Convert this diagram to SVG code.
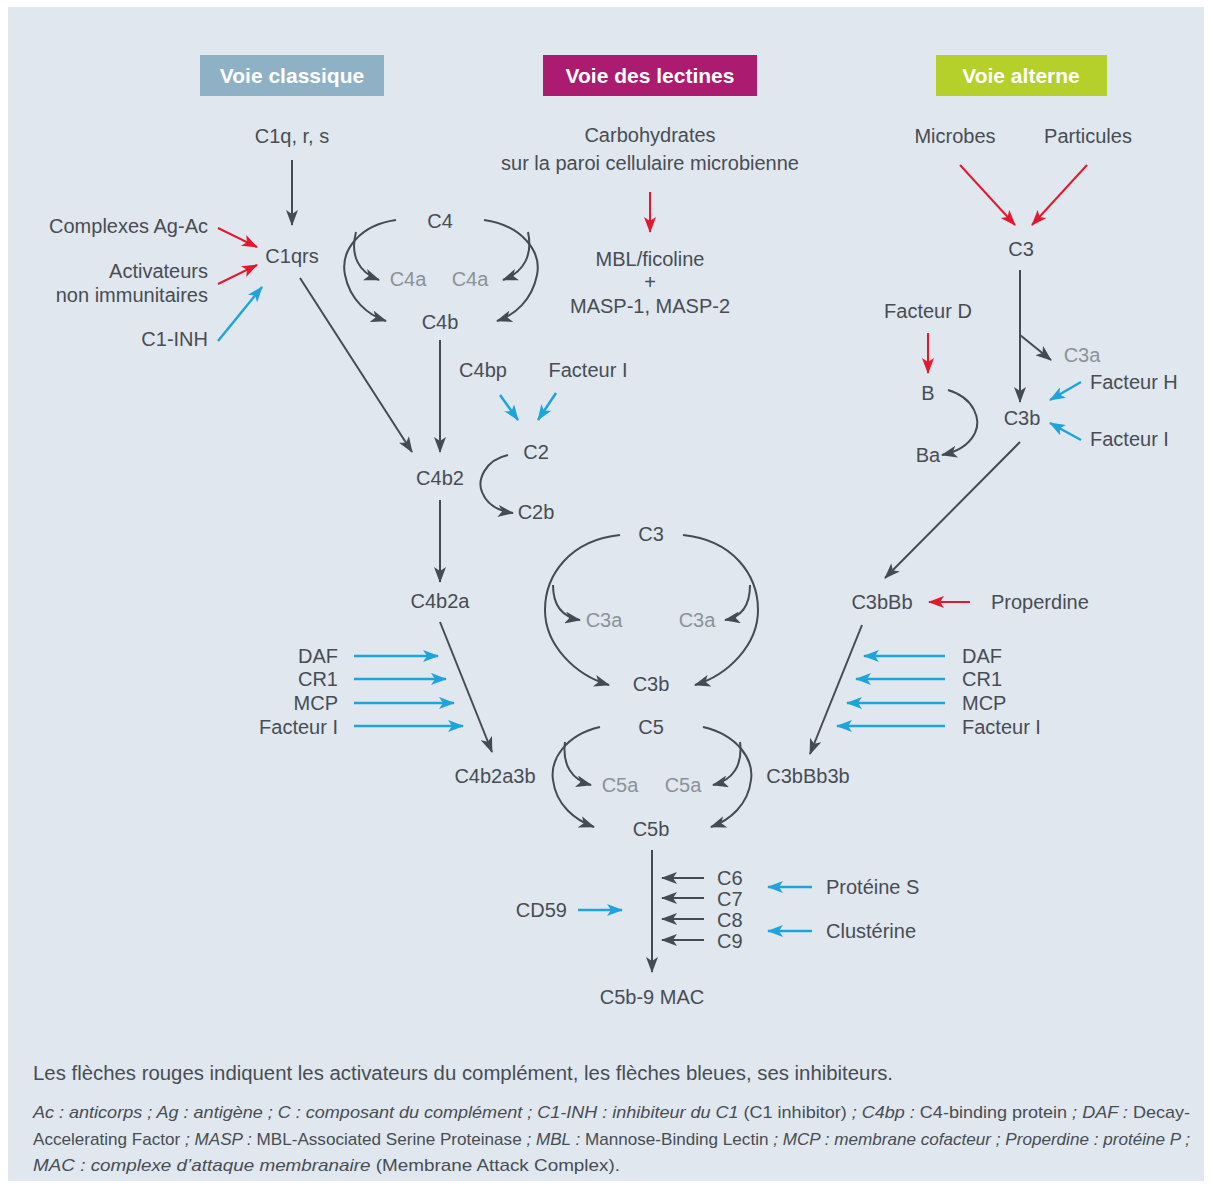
<svg xmlns="http://www.w3.org/2000/svg" width="1211" height="1187" viewBox="0 0 1211 1187">
<defs>
<style>
text{font-family:"Liberation Sans Narrow","Liberation Sans",Arial,sans-serif;fill:#484d54;font-size:20px}
.c{text-anchor:middle}
.r{text-anchor:end}
.l{fill:#8a9299}
.h{fill:#fff;font-weight:bold;font-size:21px;text-anchor:middle}
.k{fill:none;stroke:#454b52;stroke-width:2}
.red{fill:none;stroke:#e3182c;stroke-width:2}
.blue{fill:none;stroke:#1ea4dc;stroke-width:2.5}
.f{font-size:20px}
.it{font-size:17px;font-style:italic}
.up{font-style:normal}
</style>
<marker id="ak" markerUnits="userSpaceOnUse" viewBox="0 0 16 12" refX="15" refY="6" markerWidth="16" markerHeight="12" orient="auto"><path d="M0,0 L16,6 L0,12 L4,6 z" fill="#454b52"/></marker>
<marker id="ar" markerUnits="userSpaceOnUse" viewBox="0 0 16 12" refX="15" refY="6" markerWidth="16" markerHeight="12" orient="auto"><path d="M0,0 L16,6 L0,12 L4,6 z" fill="#e3182c"/></marker>
<marker id="ab" markerUnits="userSpaceOnUse" viewBox="0 0 16 12" refX="15" refY="6" markerWidth="16" markerHeight="12" orient="auto"><path d="M0,0 L16,6 L0,12 L4,6 z" fill="#1ea4dc"/></marker>
</defs>
<rect x="0" y="0" width="1211" height="1187" fill="#ffffff"/>
<rect x="8" y="7" width="1196" height="1174" fill="#e0e7ee"/>

<g id="headers">
<g id="voie-classique"><rect x="200" y="55" width="184" height="41" fill="#8fb1c5"/><text class="h" x="292" y="83">Voie classique</text></g>
<g id="voie-lectines"><rect x="543" y="55" width="214" height="41" fill="#ab1b70"/><text class="h" x="650" y="83">Voie des lectines</text></g>
<g id="voie-alterne"><rect x="936" y="55" width="171" height="41" fill="#b5cf2b"/><text class="h" x="1021" y="83">Voie alterne</text></g>
</g>

<g id="connectors">
<path class="k" d="M292,160 L292,225" marker-end="url(#ak)"/>
<path class="red" d="M218,228 L257,247" marker-end="url(#ar)"/>
<path class="red" d="M218,284 L257,265" marker-end="url(#ar)"/>
<path class="blue" d="M218,341 L262,287" marker-end="url(#ab)"/>
<path class="k" d="M300,278 L412,452" marker-end="url(#ak)"/>
<path class="k" d="M396,220 C360,225 340,250 345,275 C350,300 368,315 386,321" marker-end="url(#ak)"/>
<path class="k" d="M356,232 C350,255 358,272 379,280" marker-end="url(#ak)"/>
<path class="k" d="M484,220 C520,225 542,250 537,275 C532,300 515,315 497,321" marker-end="url(#ak)"/>
<path class="k" d="M528,232 C533,255 524,272 503,280" marker-end="url(#ak)"/>
<path class="k" d="M440,340 L440,452" marker-end="url(#ak)"/>
<path class="blue" d="M500,395 L518,420" marker-end="url(#ab)"/>
<path class="blue" d="M556,393 L538,420" marker-end="url(#ab)"/>
<path class="k" d="M508,455 C485,460 477,480 482,492 C487,505 498,511 513,513" marker-end="url(#ak)"/>
<path class="k" d="M440,500 L440,582" marker-end="url(#ak)"/>
<path class="k" d="M440,622 L492,752" marker-end="url(#ak)"/>
<path class="blue" d="M354,656 L438,656" marker-end="url(#ab)"/>
<path class="blue" d="M354,679 L446,679" marker-end="url(#ab)"/>
<path class="blue" d="M354,703 L454,703" marker-end="url(#ab)"/>
<path class="blue" d="M354,726 L463,726" marker-end="url(#ab)"/>
<path class="red" d="M650,192 L650,232" marker-end="url(#ar)"/>
<path class="red" d="M960,165 L1015,225" marker-end="url(#ar)"/>
<path class="red" d="M1087,165 L1032,225" marker-end="url(#ar)"/>
<path class="k" d="M1020,270 L1020,402" marker-end="url(#ak)"/>
<path class="k" d="M1020,335 L1051,360" marker-end="url(#ak)"/>
<path class="red" d="M928,333 L928,373" marker-end="url(#ar)"/>
<path class="k" d="M948,390 C975,398 981,420 975,433 C968,447 955,452 942,455" marker-end="url(#ak)"/>
<path class="blue" d="M1081,382 L1050,400" marker-end="url(#ab)"/>
<path class="blue" d="M1081,440 L1050,423" marker-end="url(#ab)"/>
<path class="k" d="M1020,442 L885,578" marker-end="url(#ak)"/>
<path class="red" d="M970,602 L929,602" marker-end="url(#ar)"/>
<path class="k" d="M862,625 L810,754" marker-end="url(#ak)"/>
<path class="blue" d="M945,656 L864,656" marker-end="url(#ab)"/>
<path class="blue" d="M945,679 L856,679" marker-end="url(#ab)"/>
<path class="blue" d="M945,703 L847,703" marker-end="url(#ab)"/>
<path class="blue" d="M945,726 L837,726" marker-end="url(#ab)"/>
<path class="k" d="M620,535 C570,540 545,575 545,610 C545,645 575,675 609,685" marker-end="url(#ak)"/>
<path class="k" d="M553,585 C553,605 562,617 580,620" marker-end="url(#ak)"/>
<path class="k" d="M683,535 C733,540 758,575 758,610 C758,645 728,675 695,685" marker-end="url(#ak)"/>
<path class="k" d="M750,585 C750,605 742,617 725,620" marker-end="url(#ak)"/>
<path class="k" d="M600,727 C565,735 550,760 553,780 C556,805 575,820 594,827" marker-end="url(#ak)"/>
<path class="k" d="M565,742 C562,765 572,780 591,785" marker-end="url(#ak)"/>
<path class="k" d="M703,727 C738,735 754,760 751,780 C748,805 730,820 711,827" marker-end="url(#ak)"/>
<path class="k" d="M740,742 C743,765 733,780 713,785" marker-end="url(#ak)"/>
<path class="k" d="M652,850 L652,972" marker-end="url(#ak)"/>
<path class="k" d="M704,878 L662,878" marker-end="url(#ak)"/>
<path class="k" d="M704,898 L662,898" marker-end="url(#ak)"/>
<path class="k" d="M704,919 L662,919" marker-end="url(#ak)"/>
<path class="k" d="M704,940 L662,940" marker-end="url(#ak)"/>
<path class="blue" d="M578,910 L622,910" marker-end="url(#ab)"/>
<path class="blue" d="M812,887 L768,887" marker-end="url(#ab)"/>
<path class="blue" d="M812,931 L768,931" marker-end="url(#ab)"/>
</g>

<g id="n-c1qrs-src"><text class="c" x="292" y="143">C1q, r, s</text></g>
<g id="n-c1qrs"><text class="c" x="292" y="263">C1qrs</text></g>
<g id="n-agac"><text class="r" x="208" y="233">Complexes Ag-Ac</text></g>
<g id="n-activ"><text class="r" x="208" y="278">Activateurs</text><text class="r" x="208" y="302">non immunitaires</text></g>
<g id="n-c1inh"><text class="r" x="208" y="346">C1-INH</text></g>
<g id="n-c4"><text class="c" x="440" y="228">C4</text></g>
<g id="n-c4a1"><text class="c l" x="408" y="286">C4a</text></g>
<g id="n-c4a2"><text class="c l" x="470" y="286">C4a</text></g>
<g id="n-c4b"><text class="c" x="440" y="329">C4b</text></g>
<g id="n-c4bp"><text class="c" x="483" y="377">C4bp</text></g>
<g id="n-fi1"><text class="c" x="588" y="377">Facteur I</text></g>
<g id="n-c2"><text class="c" x="536" y="459">C2</text></g>
<g id="n-c2b"><text class="c" x="536" y="519">C2b</text></g>
<g id="n-c4b2"><text class="c" x="440" y="485">C4b2</text></g>
<g id="n-c4b2a"><text class="c" x="440" y="608">C4b2a</text></g>
<g id="n-inh-left">
<text class="r" x="338" y="663">DAF</text>
<text class="r" x="338" y="686">CR1</text>
<text class="r" x="338" y="710">MCP</text>
<text class="r" x="338" y="734">Facteur I</text>
</g>
<g id="n-c4b2a3b"><text class="c" x="495" y="783">C4b2a3b</text></g>

<g id="n-carbo"><text class="c" x="650" y="142">Carbohydrates</text><text class="c" x="650" y="170">sur la paroi cellulaire microbienne</text></g>
<g id="n-mbl"><text class="c" x="650" y="266">MBL/ficoline</text><text class="c" x="650" y="289">+</text><text class="c" x="650" y="313">MASP-1, MASP-2</text></g>

<g id="n-microbes"><text class="c" x="955" y="143">Microbes</text></g>
<g id="n-particules"><text class="c" x="1088" y="143">Particules</text></g>
<g id="n-c3alt"><text class="c" x="1021" y="256">C3</text></g>
<g id="n-c3a-alt"><text class="c l" x="1082" y="362">C3a</text></g>
<g id="n-fd"><text class="c" x="928" y="318">Facteur D</text></g>
<g id="n-b"><text class="c" x="928" y="400">B</text></g>
<g id="n-ba"><text class="c" x="928" y="462">Ba</text></g>
<g id="n-c3b-alt"><text class="c" x="1022" y="425">C3b</text></g>
<g id="n-fh"><text x="1090" y="389">Facteur H</text></g>
<g id="n-fi2"><text x="1090" y="446">Facteur I</text></g>
<g id="n-c3bbb"><text class="c" x="882" y="609">C3bBb</text></g>
<g id="n-properdine"><text x="991" y="609">Properdine</text></g>
<g id="n-inh-right">
<text x="962" y="663">DAF</text>
<text x="962" y="686">CR1</text>
<text x="962" y="710">MCP</text>
<text x="962" y="734">Facteur I</text>
</g>
<g id="n-c3bbb3b"><text class="c" x="808" y="783">C3bBb3b</text></g>

<g id="n-c3"><text class="c" x="651" y="541">C3</text></g>
<g id="n-c3a1"><text class="c l" x="604" y="627">C3a</text></g>
<g id="n-c3a2"><text class="c l" x="697" y="627">C3a</text></g>
<g id="n-c3b"><text class="c" x="651" y="691">C3b</text></g>
<g id="n-c5"><text class="c" x="651" y="734">C5</text></g>
<g id="n-c5a1"><text class="c l" x="620" y="792">C5a</text></g>
<g id="n-c5a2"><text class="c l" x="683" y="792">C5a</text></g>
<g id="n-c5b"><text class="c" x="651" y="836">C5b</text></g>
<g id="n-c6"><text x="717" y="885">C6</text></g>
<g id="n-c7"><text x="717" y="906">C7</text></g>
<g id="n-c8"><text x="717" y="927">C8</text></g>
<g id="n-c9"><text x="717" y="948">C9</text></g>
<g id="n-cd59"><text class="r" x="567" y="917">CD59</text></g>
<g id="n-prots"><text x="826" y="894">Protéine S</text></g>
<g id="n-clust"><text x="826" y="938">Clustérine</text></g>
<g id="n-mac"><text class="c" x="652" y="1004">C5b-9 MAC</text></g>

<g id="footer">
<text class="f" x="33" y="1080" textLength="860" lengthAdjust="spacingAndGlyphs">Les flèches rouges indiquent les activateurs du complément, les flèches bleues, ses inhibiteurs.</text>
<text class="it" x="33" y="1118" textLength="1157" lengthAdjust="spacingAndGlyphs">Ac : anticorps ; Ag : antigène ; C : composant du complément ; C1-INH : inhibiteur du C1 <tspan class="up">(C1 inhibitor)</tspan> ; C4bp : <tspan class="up">C4-binding protein</tspan> ; DAF : <tspan class="up">Decay-</tspan></text>
<text class="it" x="33" y="1145" textLength="1157" lengthAdjust="spacingAndGlyphs"><tspan class="up">Accelerating Factor</tspan> ; MASP : <tspan class="up">MBL-Associated Serine Proteinase</tspan> ; MBL : <tspan class="up">Mannose-Binding Lectin</tspan> ; MCP : membrane cofacteur ; Properdine : protéine P ;</text>
<text class="it" x="33" y="1171" textLength="587" lengthAdjust="spacingAndGlyphs">MAC : complexe d’attaque membranaire <tspan class="up">(Membrane Attack Complex).</tspan></text>
</g>
</svg>
